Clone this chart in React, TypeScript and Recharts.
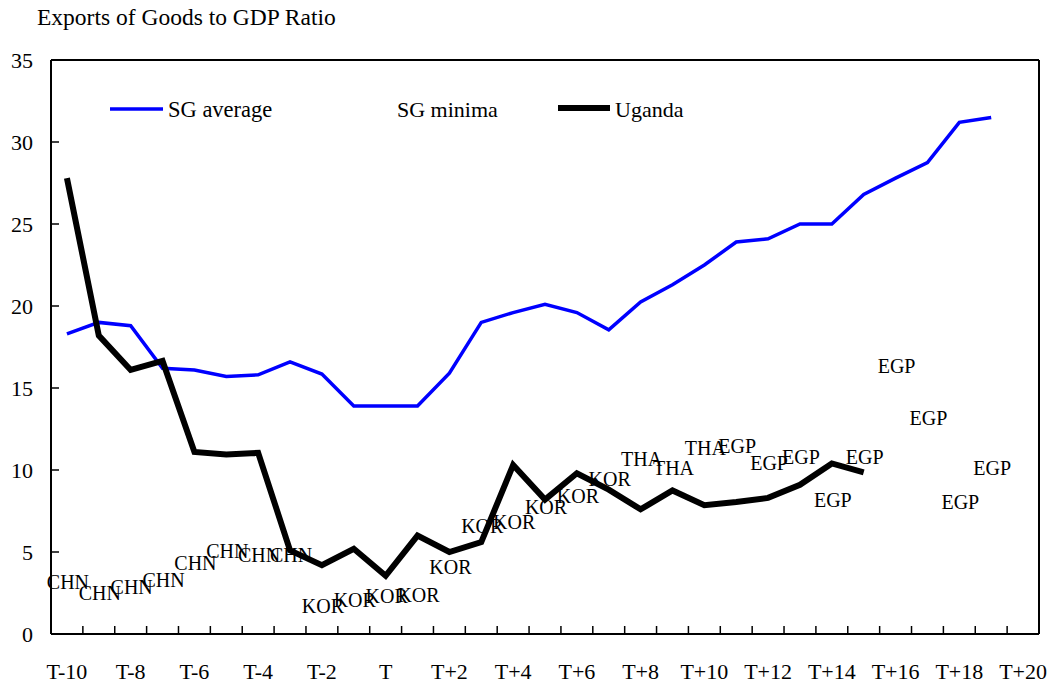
import { LineChart, Line, XAxis, YAxis, Legend } from "recharts";

const FONT = '"Liberation Serif", "Times New Roman", serif';

const periods = [
  "T-10", "T-9", "T-8", "T-7", "T-6", "T-5", "T-4", "T-3", "T-2", "T-1",
  "T", "T+1", "T+2", "T+3", "T+4", "T+5", "T+6", "T+7", "T+8", "T+9",
  "T+10", "T+11", "T+12", "T+13", "T+14", "T+15", "T+16", "T+17", "T+18", "T+19", "T+20",
];

const sgAverage = [
  18.3, 19.0, 18.8, 16.2, 16.1, 15.7, 15.8, 16.6, 15.85, 13.9,
  13.9, 13.9, 15.9, 19.0, 19.6, 20.1, 19.6, 18.55, 20.25, 21.3,
  22.5, 23.9, 24.1, 25.0, 25.0, 26.8, 27.8, 28.75, 31.2, 31.5,
];

const sgMinima = [
  3.15, 2.5, 2.85, 3.3, 4.35, 5.05, 4.8, 4.8, 1.7, 2.1,
  2.3, 2.35, 4.1, 6.6, 6.85, 7.75, 8.4, 9.45, 10.65, 10.15,
  11.35, 11.45, 10.4, 10.8, 8.15, 10.8, 16.35, 13.2, 8.05, 10.15,
];

const minimaCountry = [
  "CHN", "CHN", "CHN", "CHN", "CHN", "CHN", "CHN", "CHN",
  "KOR", "KOR", "KOR", "KOR", "KOR", "KOR", "KOR", "KOR", "KOR", "KOR",
  "THA", "THA", "THA",
  "EGP", "EGP", "EGP", "EGP", "EGP", "EGP", "EGP", "EGP", "EGP",
];

const uganda = [
  27.8, 18.2, 16.1, 16.65, 11.1, 10.95, 11.05, 5.1, 4.2, 5.2,
  3.55, 6.0, 5.0, 5.6, 10.3, 8.2, 9.8, 8.8, 7.6, 8.75,
  7.85, 8.05, 8.3, 9.1, 10.4, 9.85,
];

const yTicks = [0, 5, 10, 15, 20, 25, 30, 35];

const data = periods.map((p, i) => ({
  period: p,
  avg: sgAverage[i] ?? null,
  min: sgMinima[i] ?? null,
  uganda: uganda[i] ?? null,
}));

const W = 1055;
const H = 688;
// top/right axes are 1px each and only draw the frame
const margin = { top: 59, right: 15, bottom: 0, left: 0 };
const yAxisWidth = 51;
const band = (W - margin.left - margin.right - 1 - yAxisWidth) / periods.length;

function XTick({ x, y, index, payload }: any) {
  return (
    <g>
      {index < periods.length - 1 && (
        <line x1={x + band / 2} x2={x + band / 2} y1={y} y2={y - 8} stroke="#000" strokeWidth={1.5} />
      )}
      {index % 2 === 0 && (
        <text x={x} y={y + 45} textAnchor="middle" fontFamily={FONT} fontSize={22} fill="#000">
          {payload.value}
        </text>
      )}
    </g>
  );
}

function YTick({ x, y, payload }: any) {
  return (
    <g>
      {payload.value !== 0 && payload.value !== 35 && (
        <line x1={x} x2={x + 8} y1={y} y2={y} stroke="#000" strokeWidth={1.5} />
      )}
      <text x={x - 18} y={y} textAnchor="end" dominantBaseline="central" fontFamily={FONT} fontSize={22} fill="#000">
        {payload.value}
      </text>
    </g>
  );
}

function MinimaLabel(props: any) {
  const { cx, cy, index } = props;
  if (cx == null || cy == null || props.value == null) return <g key={`m-${index}`} />;
  return (
    <text
      key={`m-${index}`}
      x={cx + 1}
      y={cy}
      textAnchor="middle"
      dominantBaseline="central"
      fontFamily={FONT}
      fontSize={20}
      fill="#000"
    >
      {minimaCountry[index]}
    </text>
  );
}

function ChartLegend() {
  return (
    <svg width={W} height={40}>
      <line x1={110} x2={163} y1={19} y2={19} stroke="#0000ff" strokeWidth={3.5} />
      <text x={168} y={27} fontFamily={FONT} fontSize={22.5} fill="#000">SG average</text>
      <text x={397} y={27} fontFamily={FONT} fontSize={22} fill="#000">SG minima</text>
      <line x1={558} x2={610} y1={18} y2={18} stroke="#000" strokeWidth={6} />
      <text x={615} y={27} fontFamily={FONT} fontSize={22} fill="#000">Uganda</text>
    </svg>
  );
}

export default function App() {
  return (
    <div style={{ position: "absolute", left: 0, top: 0, width: W, height: H, background: "#fff" }}>
      <svg width={W} height={40} style={{ position: "absolute", left: 0, top: 0 }}>
        <text x={37} y={25} fontFamily={FONT} fontSize={23.5} fill="#000">
          Exports of Goods to GDP Ratio
        </text>
      </svg>
      <LineChart width={W} height={H} data={data} margin={margin}>
        <XAxis
          dataKey="period"
          height={54}
          interval={0}
          padding={{ left: band / 2, right: band / 2 }}
          tickSize={0}
          tickMargin={0}
          tickLine={false}
          axisLine={{ stroke: "#000", strokeWidth: 2 }}
          tick={<XTick />}
        />
        <XAxis
          xAxisId="top"
          dataKey="period"
          orientation="top"
          height={1}
          tick={false}
          tickLine={false}
          axisLine={{ stroke: "#000", strokeWidth: 2 }}
        />
        <YAxis
          domain={[0, 35]}
          ticks={yTicks}
          width={yAxisWidth}
          tickSize={0}
          tickMargin={0}
          tickLine={false}
          axisLine={{ stroke: "#000", strokeWidth: 2 }}
          tick={<YTick />}
        />
        <YAxis
          yAxisId="right"
          orientation="right"
          domain={[0, 35]}
          width={1}
          tick={false}
          tickLine={false}
          axisLine={{ stroke: "#000", strokeWidth: 2 }}
        />
        <Legend
          layout="horizontal"
          verticalAlign="middle"
          align="center"
          wrapperStyle={{ position: "absolute", top: 90, left: 0, width: W, height: 40 }}
          content={() => <ChartLegend />}
        />
        <Line
          dataKey="avg"
          name="SG average"
          stroke="#0000ff"
          strokeWidth={3.5}
          dot={false}
          activeDot={false}
          isAnimationActive={false}
        />
        <Line
          dataKey="min"
          name="SG minima"
          stroke="none"
          dot={(p: any) => <MinimaLabel {...p} />}
          activeDot={false}
          isAnimationActive={false}
        />
        <Line
          dataKey="uganda"
          name="Uganda"
          stroke="#000"
          strokeWidth={6}
          dot={false}
          activeDot={false}
          isAnimationActive={false}
        />
      </LineChart>
    </div>
  );
}
